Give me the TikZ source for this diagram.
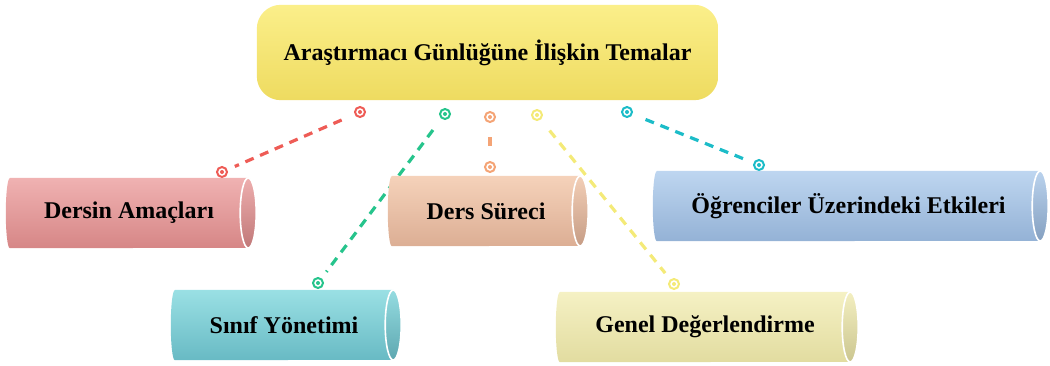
\documentclass[tikz,border=0pt]{standalone}
\usepackage{fontspec}
\setmainfont{Liberation Serif}
\usetikzlibrary{backgrounds}
\pgfdeclarelayer{links}
\pgfsetlayers{links,background,main}

% connector colours
\definecolor{lkred}{RGB}{238,92,86}
\definecolor{lkgreen}{RGB}{38,196,140}
\definecolor{lkorange}{RGB}{244,164,118}
\definecolor{lkyellow}{RGB}{244,234,120}
\definecolor{lkcyan}{RGB}{28,188,200}
% box colours (top / bottom)
\definecolor{redT}{RGB}{240,178,178}\definecolor{redB}{RGB}{214,134,134}
\definecolor{peachT}{RGB}{245,210,186}\definecolor{peachB}{RGB}{220,174,148}
\definecolor{blueT}{RGB}{190,214,240}\definecolor{blueB}{RGB}{148,178,214}
\definecolor{tealT}{RGB}{154,224,228}\definecolor{tealB}{RGB}{104,186,196}
\definecolor{creamT}{RGB}{245,241,196}\definecolor{creamB}{RGB}{226,220,160}
\definecolor{titleT}{RGB}{251,239,138}\definecolor{titleM}{RGB}{243,226,108}
\definecolor{titleB}{RGB}{238,219,96}

% horizontal cylinder behind a body node: #1 node, #2 top colour, #3 bottom colour
\newcommand\tubebehind[3]{%
  \shade[top color=#2, bottom color=#3]
    (#1.north west) -- (#1.north east)
    arc[start angle=90, end angle=-90, x radius=8pt, y radius=35pt]
    -- (#1.south west)
    arc[start angle=270, end angle=90, x radius=4pt, y radius=35pt] -- cycle;
  \shade[top color=#2!90!#3, bottom color=#3!90!black, draw=white, line width=1.6pt]
    (#1.east) ellipse [x radius=8pt, y radius=35pt];
}

\begin{document}
\begin{tikzpicture}[x=1pt,y=-1pt,
  theme/.style={font=\fontsize{24}{28}\selectfont\bfseries, text=black,
    inner sep=0pt, minimum height=70pt},
  headline/.style={theme, minimum width=461pt, minimum height=95pt},
  dotring/.style={circle, minimum size=10pt, inner sep=0pt, line width=2pt,
    draw=#1, fill=white,
    path picture={\fill[#1] (path picture bounding box.center) circle (2pt);}},
  link/.style={draw=#1, line width=3.2pt, dash pattern=on 9pt off 7pt,
    dash phase=10pt, shorten >=8pt, shorten <=8pt},
]
\useasboundingbox (0,0) rectangle (1050,365);

% title and theme boxes
\node[headline] (title) at (487.5,52.5) {Araştırmacı Günlüğüne İlişkin Temalar};
\node[theme, minimum width=238pt] (amac)    at (129,213)   {Dersin Amaçları};
\node[theme, minimum width=188pt] (surec)   at (486,211)   {Ders Süreci};
\node[theme, minimum width=383pt] (etki)    at (848.5,206) {Öğrenciler Üzerindeki Etkileri};
\node[theme, minimum width=218pt] (sinif)   at (284,325)   {Sınıf Yönetimi};
\node[theme, minimum width=290pt] (genel)   at (705,327)   {Genel Değerlendirme};

\begin{pgfonlayer}{background}
  \shade[rounded corners=24pt, top color=titleT, middle color=titleM, bottom color=titleB]
    (title.north west) rectangle (title.south east);
  \tubebehind{amac}{redT}{redB}
  \tubebehind{surec}{peachT}{peachB}
  \tubebehind{etki}{blueT}{blueB}
  \tubebehind{sinif}{tealT}{tealB}
  \tubebehind{genel}{creamT}{creamB}
\end{pgfonlayer}

% dashed connectors with ring ends
\begin{pgfonlayer}{links}
  \node[dotring=lkred]    (r1) at (360,112) {};
  \node[dotring=lkred]    (r2) at (222,172) {};
  \node[dotring=lkgreen]  (g1) at (445,114) {};
  \node[dotring=lkgreen]  (g2) at (318,283) {};
  \node[dotring=lkorange] (o1) at (490,117) {};
  \node[dotring=lkorange] (o2) at (490,167) {};
  \node[dotring=lkyellow] (y1) at (537,115) {};
  \node[dotring=lkyellow] (y2) at (674,284) {};
  \node[dotring=lkcyan]   (c1) at (627,112) {};
  \node[dotring=lkcyan]   (c2) at (759,165) {};
  \draw[link=lkred]    (r1) -- (r2);
  \draw[link=lkgreen]  (g1) -- (g2);
  \draw[link=lkorange] (o1) -- (o2);
  \draw[link=lkyellow] (y1) -- (y2);
  \draw[link=lkcyan]   (c1) -- (c2);
\end{pgfonlayer}
\end{tikzpicture}
\end{document}
